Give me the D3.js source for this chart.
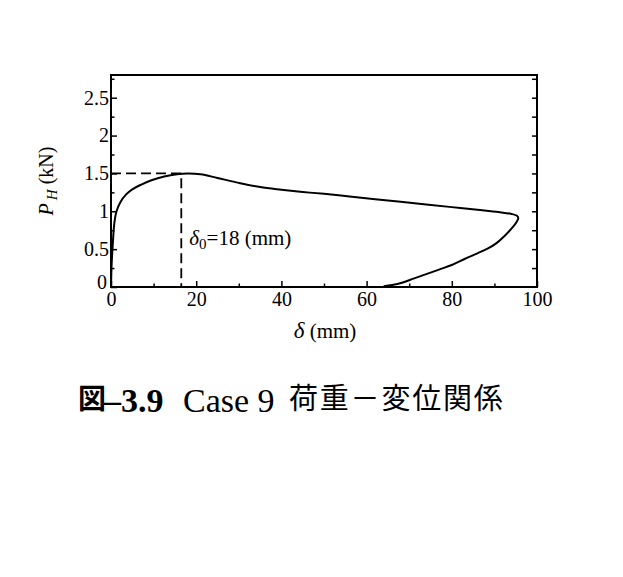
<!DOCTYPE html>
<html>
<head>
<meta charset="utf-8">
<script src="https://cdn.jsdelivr.net/npm/d3@7"></script>
<style>
  body { margin: 0; background: #fff; }
  svg text { fill: #000; }
</style>
</head>
<body>
<div id="chart"></div>
<script>
// displacement (mm) and load (kN), in drawing order
const deltaMm = [0, 0.15, 0.45, 0.8, 1.3, 2.2, 3.5, 5, 7, 9.5, 12.5, 15.5, 18, 21, 25, 30, 35, 40, 45, 50, 56, 62, 68, 74, 80, 86, 91, 94, 95.3, 95.6, 95.2, 94.3, 92.5, 90.5, 88.5, 86, 83, 80, 77, 74, 71, 68.5, 66, 64];
const loadKN  = [0, 0.3, 0.6, 0.85, 1.0, 1.12, 1.22, 1.29, 1.35, 1.41, 1.46, 1.49, 1.5, 1.49, 1.44, 1.375, 1.32, 1.285, 1.255, 1.23, 1.195, 1.16, 1.125, 1.09, 1.055, 1.02, 0.99, 0.965, 0.94, 0.91, 0.86, 0.79, 0.68, 0.58, 0.51, 0.445, 0.37, 0.29, 0.23, 0.17, 0.11, 0.06, 0.025, 0.01];

const xTicks = [0, 20, 40, 60, 80, 100];
const xMinorTicks = [10, 30, 50, 70, 90];
const yTicks = [0, 0.5, 1, 1.5, 2, 2.5];
const yMinorTicks = [0.25, 0.75, 1.25, 1.75, 2.25, 2.75];
const yRightTicks = [0.25, 0.5, 0.75, 1, 1.25, 1.5, 1.75, 2, 2.25, 2.5, 2.75];

// peak marker (position of dashed lines as drawn)
const peakDelta = 16.5;
const peakLoad = 1.5;

const W = 623, H = 577;
const plot = {left: 111, right: 537, top: 75, bottom: 287};
const serif = "'Liberation Serif', 'Times New Roman', serif";
const cjk = "'Noto Sans CJK JP', sans-serif";

const svg = d3.select("#chart").append("svg")
    .attr("width", W)
    .attr("height", H);

svg.append("rect").attr("width", W).attr("height", H).attr("fill", "#fff");

const x = d3.scaleLinear().domain([0, 100]).range([plot.left, plot.right]);
const y = d3.scaleLinear().domain([0, 2.8]).range([plot.bottom, plot.top]);

// frame
svg.append("rect")
    .attr("x", plot.left).attr("y", plot.top)
    .attr("width", plot.right - plot.left)
    .attr("height", plot.bottom - plot.top)
    .attr("fill", "none")
    .attr("stroke", "#000")
    .attr("stroke-width", 2);

// bottom axis (ticks inward)
const gx = svg.append("g")
    .attr("transform", "translate(0," + plot.bottom + ")")
    .call(d3.axisBottom(x).tickValues(xTicks).tickSize(-6).tickPadding(4.5).tickFormat(d3.format("d")));
svg.append("g")
    .attr("transform", "translate(0," + plot.bottom + ")")
    .call(d3.axisBottom(x).tickValues(xMinorTicks).tickSize(-3.5).tickFormat(""));

// left axis
const gy = svg.append("g")
    .attr("transform", "translate(" + plot.left + ",0)")
    .call(d3.axisLeft(y).tickValues(yTicks).tickSize(-6).tickPadding(2).tickFormat(d => d));
svg.append("g")
    .attr("transform", "translate(" + plot.left + ",0)")
    .call(d3.axisLeft(y).tickValues(yMinorTicks).tickSize(-3.5).tickFormat(""));

// right axis, ticks only
svg.append("g")
    .attr("transform", "translate(" + plot.right + ",0)")
    .call(d3.axisRight(y).tickValues(yRightTicks).tickSize(-5).tickFormat(""));

svg.selectAll(".domain").remove();
svg.selectAll(".tick line").attr("stroke", "#000").attr("stroke-width", 1.5);
svg.selectAll(".tick text")
    .attr("font-family", serif)
    .attr("font-size", 20)
    .attr("fill", "#000");

// the 0 at the corner sits a little higher and left, as in the original
gy.selectAll(".tick text").filter(d => d === 0).attr("dy", "0.05em").attr("x", -4);

// dashed guide lines to the peak
svg.append("path")
    .attr("d", "M" + x(0) + "," + y(peakLoad) + "H" + x(peakDelta) + "V" + y(0))
    .attr("fill", "none")
    .attr("stroke", "#000")
    .attr("stroke-width", 1.8)
    .attr("stroke-dasharray", "10,5");

// load-displacement curve
const pts = deltaMm.map((d, i) => [d, loadKN[i]]);
const line = d3.line()
    .x(d => x(d[0]))
    .y(d => y(d[1]))
    .curve(d3.curveCatmullRom.alpha(0.5));

svg.append("path")
    .attr("d", line(pts))
    .attr("fill", "none")
    .attr("stroke", "#000")
    .attr("stroke-width", 2)
    .attr("stroke-linejoin", "round");

// peak label
const lbl = svg.append("text")
    .attr("x", x(peakDelta) + 8)
    .attr("y", 245)
    .attr("font-family", serif)
    .attr("font-size", 21);
lbl.append("tspan").attr("font-style", "italic").text("δ");
lbl.append("tspan").attr("font-size", 15).attr("dy", 4).text("0");
lbl.append("tspan").attr("dy", -4).text("=18 (mm)");

// axis titles
const xt = svg.append("text")
    .attr("x", 325)
    .attr("y", 338)
    .attr("text-anchor", "middle")
    .attr("font-family", serif)
    .attr("font-size", 21);
xt.append("tspan").attr("font-style", "italic").attr("font-size", 23).text("δ");
xt.append("tspan").text(" (mm)");

const yt = svg.append("text")
    .attr("transform", "translate(53,181) rotate(-90)")
    .attr("text-anchor", "middle")
    .attr("font-family", serif)
    .attr("font-size", 20);
yt.append("tspan").attr("font-style", "italic").text("P");
yt.append("tspan").attr("font-style", "italic").attr("font-size", 15).attr("dy", 4).attr("dx", 3).text("H");
yt.append("tspan").attr("dy", -4).text("  (kN)");

// caption
const cap = svg.append("g");
cap.append("text").attr("x", 78).attr("y", 409)
    .attr("font-family", cjk).attr("font-weight", "bold").attr("font-size", 28)
    .text("図");
cap.append("text").attr("x", 104).attr("y", 412)
    .attr("font-family", serif).attr("font-weight", "bold").attr("font-size", 34)
    .text("–3.9");
cap.append("text").attr("x", 183).attr("y", 412)
    .attr("font-family", serif).attr("font-size", 34)
    .text("Case 9");
cap.append("text").attr("x", 289).attr("y", 409)
    .attr("font-family", cjk).attr("font-size", 29)
    .attr("letter-spacing", 1.8)
    .text("荷重－変位関係");
</script>
</body>
</html>
